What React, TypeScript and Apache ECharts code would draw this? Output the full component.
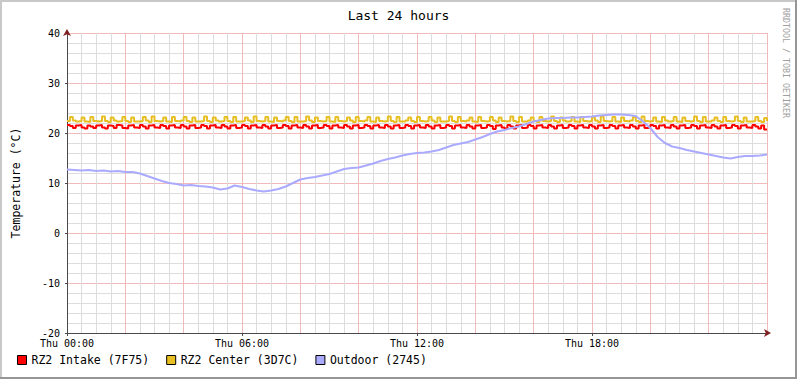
import React, { useEffect, useRef } from "react";
import * as echarts from "echarts";

const FONT = "'DejaVu Sans Mono', monospace";

const seriesNames = ["RZ2 Intake (7F75)", "RZ2 Center (3D7C)", "Outdoor (2745)"];
const seriesColors = ["#FF0000", "#E8BF22", "#AAAAFF"];
const xTickLabels = ["Thu 00:00", "Thu 06:00", "Thu 12:00", "Thu 18:00"];

// 6-minute samples, 00:00 .. 24:00
const intake = [
  21.6, 21.4, 21.0, 21.5, 21.6, 21.1, 20.9, 21.5, 21.3, 21.0,
  21.5, 21.6, 21.1, 20.9, 21.5, 21.4, 21.0, 21.6, 21.5, 21.0,
  20.9, 21.5, 21.6, 21.1, 21.0, 21.6, 21.3, 20.9, 21.5, 21.6,
  21.1, 21.0, 21.6, 21.4, 20.9, 21.5, 21.6, 21.1, 21.0, 21.6,
  21.3, 20.9, 21.5, 21.6, 21.0, 21.1, 21.6, 21.4, 20.9, 21.5,
  21.6, 21.1, 21.0, 21.6, 21.3, 20.9, 21.5, 21.6, 21.0, 21.1,
  21.6, 21.4, 20.9, 21.5, 21.6, 21.1, 21.0, 21.6, 21.3, 20.9,
  21.5, 21.6, 21.0, 21.1, 21.6, 21.4, 20.9, 21.5, 21.6, 21.1,
  21.0, 21.6, 21.3, 20.9, 21.5, 21.6, 21.0, 21.1, 21.6, 21.4,
  20.9, 21.5, 21.6, 21.1, 21.0, 21.6, 21.3, 20.9, 21.5, 21.6,
  21.0, 21.1, 21.6, 21.4, 20.9, 21.5, 21.6, 21.1, 21.0, 21.6,
  21.3, 20.9, 21.5, 21.6, 21.0, 21.1, 21.6, 21.4, 20.9, 21.5,
  21.6, 21.1, 21.0, 21.6, 21.3, 20.9, 21.5, 21.6, 21.0, 21.1,
  21.6, 21.4, 20.9, 21.5, 21.6, 21.1, 21.0, 21.6, 21.3, 20.9,
  21.5, 21.6, 21.0, 21.1, 21.6, 21.4, 20.8, 21.5, 21.6, 21.1,
  20.9, 21.6, 21.3, 20.9, 21.5, 21.6, 21.0, 21.1, 21.6, 21.4,
  20.9, 21.5, 21.6, 21.1, 21.0, 21.6, 21.3, 20.9, 21.5, 21.6,
  21.0, 21.1, 21.6, 21.4, 20.9, 21.5, 21.6, 21.1, 21.0, 21.6,
  21.3, 20.9, 21.5, 21.6, 21.0, 21.1, 21.6, 21.4, 20.9, 21.5,
  21.6, 21.1, 21.0, 21.6, 21.3, 20.9, 21.5, 21.6, 21.0, 21.1,
  21.6, 21.4, 20.9, 21.5, 21.6, 21.1, 21.0, 21.6, 21.3, 20.9,
  21.5, 21.6, 21.0, 21.1, 21.6, 21.4, 20.9, 21.5, 21.6, 21.1,
  21.0, 21.6, 21.3, 20.9, 21.5, 21.6, 21.0, 21.1, 21.6, 21.4,
  20.9, 21.5, 21.6, 21.1, 21.0, 21.6, 21.3, 20.9, 21.5, 20.7,
  20.7,
];

// 6-minute samples, 00:00 .. 24:00
const center = [
  22.4, 23.2, 22.5, 22.3, 22.4, 23.1, 22.3, 22.2, 23.2, 22.4,
  22.3, 22.4, 23.3, 22.4, 22.2, 23.1, 22.5, 22.3, 22.4, 23.2,
  22.4, 22.2, 23.1, 22.3, 22.3, 22.4, 23.2, 22.5, 22.2, 23.3,
  22.4, 22.3, 22.4, 23.1, 22.3, 22.2, 23.2, 22.4, 22.3, 22.5,
  23.2, 22.4, 22.2, 23.1, 22.3, 22.3, 22.4, 23.3, 22.4, 22.2,
  23.1, 22.5, 22.3, 22.4, 23.2, 22.4, 22.2, 23.2, 22.3, 22.3,
  22.4, 23.1, 22.5, 22.2, 23.3, 22.4, 22.3, 22.4, 23.2, 22.3,
  22.2, 23.1, 22.4, 22.3, 22.5, 23.2, 22.4, 22.2, 23.2, 22.3,
  22.3, 22.4, 23.3, 22.5, 22.2, 23.1, 22.4, 22.3, 22.4, 23.2,
  22.3, 22.2, 23.2, 22.4, 22.3, 22.4, 23.1, 22.5, 22.2, 23.2,
  22.4, 22.3, 22.5, 23.2, 22.3, 22.2, 23.1, 22.4, 22.3, 22.4,
  23.3, 22.4, 22.2, 23.2, 22.3, 22.3, 22.5, 23.1, 22.4, 22.2,
  23.2, 22.4, 22.3, 22.4, 23.2, 22.5, 22.2, 23.1, 22.3, 22.3,
  22.4, 23.3, 22.4, 22.2, 23.2, 22.4, 22.3, 22.5, 23.1, 22.3,
  22.2, 23.2, 22.4, 22.3, 22.4, 23.2, 22.5, 22.2, 23.1, 22.4,
  22.3, 22.4, 23.3, 22.4, 22.2, 23.2, 22.3, 22.3, 22.5, 23.1,
  22.4, 22.2, 23.2, 22.4, 22.3, 22.4, 23.3, 22.4, 22.2, 23.1,
  22.5, 22.3, 22.4, 23.2, 22.3, 22.2, 23.2, 22.4, 22.3, 22.4,
  23.1, 22.5, 22.2, 23.3, 22.4, 22.3, 22.4, 23.2, 22.3, 22.2,
  23.1, 22.4, 22.3, 22.5, 23.2, 22.4, 22.2, 23.3, 22.4, 22.3,
  22.4, 23.1, 22.3, 22.2, 23.2, 22.5, 22.3, 22.4, 23.2, 22.3,
  22.2, 23.1, 22.4, 22.3, 22.4, 23.3, 22.4, 22.2, 23.2, 22.3,
  22.3, 22.5, 23.1, 22.4, 22.2, 23.2, 22.4, 22.3, 22.4, 23.3,
  22.4, 22.2, 23.1, 22.3, 22.3, 22.4, 23.2, 22.4, 22.2, 23.0,
  22.4,
];

// 15-minute samples, 00:00 .. 24:00
const outdoor = [
  12.7, 12.6, 12.5, 12.6, 12.4, 12.5, 12.3, 12.4, 12.2, 12.2,
  11.9, 11.4, 10.9, 10.4, 10.0, 9.8, 9.5, 9.6, 9.4, 9.3,
  9.1, 8.7, 8.9, 9.5, 9.2, 8.8, 8.5, 8.3, 8.5, 8.8,
  9.3, 10.0, 10.7, 11.0, 11.2, 11.5, 11.8, 12.3, 12.8, 13.0,
  13.1, 13.5, 13.9, 14.4, 14.8, 15.1, 15.5, 15.8, 16.0, 16.1,
  16.3, 16.6, 17.1, 17.6, 17.9, 18.2, 18.7, 19.2, 19.8, 20.3,
  20.6, 21.0, 21.3, 21.8, 22.3, 22.6, 22.9, 23.0, 23.0, 23.1,
  23.1, 23.2, 23.3, 23.5, 23.6, 23.7, 23.7, 23.6, 23.4, 22.3,
  21.0, 19.2, 18.0, 17.3, 17.0, 16.6, 16.3, 16.0, 15.7, 15.4,
  15.1, 14.9, 15.2, 15.4, 15.4, 15.5, 15.7,
];

const INTAKE_STEP = 6;
const OUTDOOR_STEP = 15;

export default function App() {
  const ref = useRef<HTMLDivElement>(null);

  useEffect(() => {
    if (!ref.current) return;
    const chart = echarts.init(ref.current, undefined, { renderer: "svg" });

    const hiddenAxisBase = {
      axisLabel: { show: false },
      axisTick: { show: false },
    };

    const xBase = { type: "value" as const, min: 0, max: 1440, position: "bottom" as const };
    const yBase = { type: "value" as const, min: -20, max: 40, position: "left" as const };

    const option: any = {
      animation: false,
      backgroundColor: "#FFFFFF",
      textStyle: { fontFamily: FONT },
      title: {
        text: "Last 24 hours",
        left: "center",
        top: 9,
        padding: 0,
        textStyle: { fontSize: 13, fontWeight: "normal", color: "#000", fontFamily: FONT },
      },
      legend: {
        left: 17,
        top: 354,
        padding: 0,
        orient: "horizontal",
        icon: "rect",
        itemWidth: 9,
        itemHeight: 9,
        itemGap: 17,
        itemStyle: { borderColor: "#000", borderWidth: 1 },
        textStyle: { fontSize: 11.5, color: "#000", fontFamily: FONT },
        data: seriesNames,
        selectedMode: false,
      },
      grid: { left: 67, top: 33, width: 700, height: 300, containLabel: false },
      xAxis: [
        {
          ...xBase,
          ...hiddenAxisBase,
          interval: 30,
          axisLine: { show: false, onZero: false },
          splitLine: { show: true, lineStyle: { color: "#DDDDDD", width: 1 } },
        },
        {
          ...xBase,
          ...hiddenAxisBase,
          interval: 120,
          axisLine: { show: false, onZero: false },
          splitLine: { show: true, lineStyle: { color: "#F2BBBB", width: 1 } },
        },
        {
          ...xBase,
          ...hiddenAxisBase,
          interval: 360,
          axisLine: {
            show: true,
            onZero: false,
            symbol: ["none", "arrow"],
            symbolSize: [6, 7],
            symbolOffset: [0, 4],
            lineStyle: { color: "#7F1F1F", width: 0 },
          },
          splitLine: { show: false },
        },
        {
          ...xBase,
          interval: 360,
          axisLine: {
            show: true,
            onZero: false,
            lineStyle: { color: "#4A4A4A", width: 1 },
          },
          axisTick: { show: true, length: 3, lineStyle: { color: "#4A4A4A" } },
          axisLabel: {
            show: true,
            margin: 5,
            fontSize: 10,
            color: "#000",
            fontFamily: FONT,
            showMaxLabel: false,
            formatter: (v: number) => xTickLabels[Math.round(v / 360)] ?? "",
          },
          splitLine: { show: false },
        },
      ],
      yAxis: [
        {
          ...yBase,
          ...hiddenAxisBase,
          interval: 2,
          axisLine: { show: false, onZero: false },
          splitLine: { show: true, lineStyle: { color: "#DDDDDD", width: 1 } },
        },
        {
          ...yBase,
          ...hiddenAxisBase,
          interval: 10,
          axisLine: { show: false, onZero: false },
          splitLine: { show: true, lineStyle: { color: "#F2BBBB", width: 1 } },
        },
        {
          ...yBase,
          ...hiddenAxisBase,
          interval: 10,
          axisLine: {
            show: true,
            onZero: false,
            symbol: ["none", "arrow"],
            symbolSize: [6, 7],
            symbolOffset: [0, 4],
            lineStyle: { color: "#7F1F1F", width: 0 },
          },
          splitLine: { show: false },
        },
        {
          ...yBase,
          interval: 10,
          name: "Temperature (°C)",
          nameLocation: "middle",
          nameGap: 45,
          nameRotate: 90,
          nameTextStyle: { fontSize: 11.5, color: "#000", fontFamily: FONT },
          axisLine: { show: true, onZero: false, lineStyle: { color: "#4A4A4A", width: 1 } },
          axisTick: { show: true, length: 2, lineStyle: { color: "#4A4A4A" } },
          axisLabel: { show: true, margin: 7, fontSize: 10, color: "#000", fontFamily: FONT },
          splitLine: { show: false },
        },
      ],
      series: [
        {
          name: seriesNames[0],
          type: "line",
          xAxisIndex: 3,
          yAxisIndex: 3,
          step: "end",
          showSymbol: false,
          symbol: "none",
          silent: true,
          color: seriesColors[0],
          lineStyle: { color: seriesColors[0], width: 2 },
          data: intake.map((v, i) => [i * INTAKE_STEP, v]),
        },
        {
          name: seriesNames[1],
          type: "line",
          xAxisIndex: 3,
          yAxisIndex: 3,
          step: "end",
          showSymbol: false,
          symbol: "none",
          silent: true,
          color: seriesColors[1],
          lineStyle: { color: seriesColors[1], width: 2 },
          data: center.map((v, i) => [i * INTAKE_STEP, v]),
        },
        {
          name: seriesNames[2],
          type: "line",
          xAxisIndex: 3,
          yAxisIndex: 3,
          showSymbol: false,
          symbol: "none",
          silent: true,
          color: seriesColors[2],
          lineStyle: { color: seriesColors[2], width: 2 },
          data: outdoor.map((v, i) => [i * OUTDOOR_STEP, v]),
        },
      ],
      graphic: [
        { type: "rect", silent: true, shape: { x: 0, y: 0, width: 797, height: 2 }, style: { fill: "#C8C8C8" } },
        { type: "rect", silent: true, shape: { x: 0, y: 0, width: 2, height: 379 }, style: { fill: "#C8C8C8" } },
        { type: "rect", silent: true, shape: { x: 0, y: 377, width: 797, height: 2 }, style: { fill: "#969696" } },
        { type: "rect", silent: true, shape: { x: 795, y: 0, width: 2, height: 379 }, style: { fill: "#969696" } },
        {
          type: "text",
          silent: true,
          x: 786,
          y: 8,
          rotation: -Math.PI / 2,
          style: {
            text: "RRDTOOL / TOBI OETIKER",
            fill: "#A0A0A0",
            font: `8.3px ${FONT}`,
            align: "left",
            verticalAlign: "middle",
          },
        },
      ],
    };

    chart.setOption(option);
    return () => chart.dispose();
  }, []);

  return (
    <div
      ref={ref}
      style={{ position: "fixed", left: 0, top: 0, width: 797, height: 379 }}
    />
  );
}
